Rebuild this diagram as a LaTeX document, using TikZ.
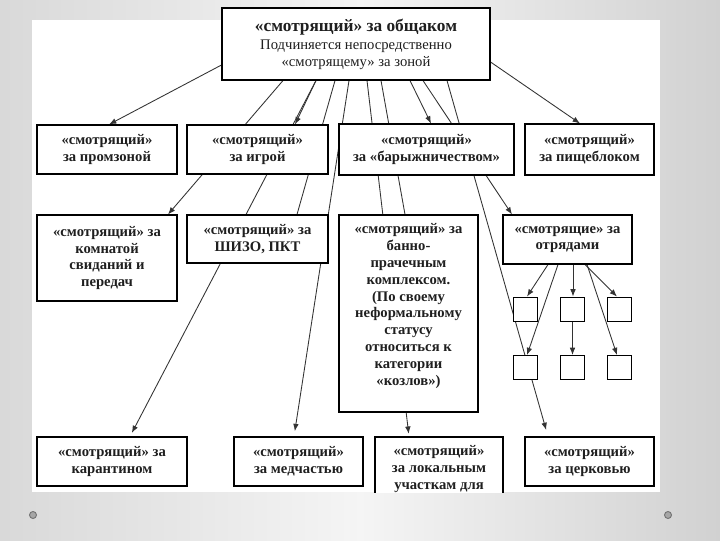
\documentclass[tikz,border=0pt]{standalone}
\usepackage{fontspec}
\setmainfont{Liberation Serif}
\usetikzlibrary{arrows.meta,calc,shadows}
\pgfdeclarelayer{back}
\pgfdeclarelayer{bg}
\pgfsetlayers{back,bg,main}
\begin{document}
\begin{tikzpicture}[x=0.75pt,y=-0.75pt,
  bx/.style={draw=black, line width=0.8pt, fill=white, inner sep=0pt, align=center,
    font=\fontsize{11}{12.6}\selectfont\bfseries, text=black!88,
    drop shadow={shadow xshift=1.1pt, shadow yshift=-1.1pt, fill=black!70, opacity=1}},
  txt/.style={inner sep=0pt, align=center, font=\fontsize{11}{12.6}\selectfont\bfseries, text=black!88},
  sq/.style={draw=black, line width=0.65pt, fill=white, minimum width=18pt, minimum height=18pt, inner sep=0pt,
    drop shadow={shadow xshift=0.7pt, shadow yshift=-0.7pt, fill=black!60, opacity=1}},
  con/.style={draw=black!80, line width=0.65pt},
  arr/.style={con, -{Latex[length=5.5pt,width=4.2pt]}},
]
\useasboundingbox (0,0) rectangle (720,540);
\begin{pgfonlayer}{back}
  \shade[left color=black!15, right color=black!18, middle color=black!4] (0,0) rectangle (720,540);
  \fill[white] (32,20) rectangle (660,492);
  \draw[black!55, fill=black!35, line width=0.7pt] (33,515) circle (3.5);
  \draw[black!55, fill=black!35, line width=0.7pt] (668,515) circle (3.5);
\end{pgfonlayer}

% boxes
\node[bx, minimum width=201pt, minimum height=54pt] (top) at (356,44)
  {{\fontsize{13}{15}\selectfont «смотрящий» за общаком}\\[1pt]
   {\mdseries Подчиняется непосредственно}\\{\mdseries «смотрящему» за зоной}};
\node[bx, minimum width=105pt, minimum height=36.75pt] (A) at (107,149.5) {«смотрящий»\\за промзоной};
\node[bx, minimum width=105.75pt, minimum height=36.75pt] (B) at (257.5,149.5) {«смотрящий»\\за игрой};
\node[bx, minimum width=131.25pt, minimum height=38.25pt] (C) at (426.5,149.5) {«смотрящий»\\за «барыжничеством»};
\node[bx, minimum width=96.75pt, minimum height=38.25pt] (D) at (589.5,149.5) {«смотрящий»\\за пищеблоком};
\node[bx, minimum width=105pt, minimum height=64.5pt] (E) at (107,258) {«смотрящий» за\\комнатой\\свиданий и\\передач};
\node[bx, minimum width=105.75pt, minimum height=36pt] (F) at (257.5,239) {«смотрящий» за\\ШИЗО, ПКТ};
\node[bx, minimum width=104.25pt, minimum height=147.75pt] (G) at (408.5,313.5) {};
\node[txt] (Gt) at (408.5,306) {«смотрящий» за\\банно-\\прачечным\\комплексом.\\(По своему\\неформальному\\статусу\\относиться к\\категории\\«козлов»)};
\node[bx, minimum width=96.75pt, minimum height=36.75pt] (H) at (567.5,239.5) {«смотрящие» за\\отрядами};
\node[sq] (TL) at (525,309) {};
\node[sq] (TM) at (572.5,309) {};
\node[sq] (TR) at (619.5,309) {};
\node[sq] (BL) at (525,367.5) {};
\node[sq] (BM) at (572.5,367.5) {};
\node[sq] (BR) at (619.5,367.5) {};
\node[bx, minimum width=112.5pt, minimum height=36.75pt] (I) at (112,461.5) {«смотрящий» за\\карантином};
\node[bx, minimum width=96.75pt, minimum height=36.75pt] (J) at (298.5,461.5) {«смотрящий»\\за медчастью};
\begin{scope}
  \clip (368,428) rectangle (512,492.5);
  \node[bx, minimum width=96pt, minimum height=61.5pt] (K) at (439,478) {};
  \node[txt] (Kt) at (439,469) {«смотрящий»\\за локальным\\участкам для};
\end{scope}
\node[bx, minimum width=96.75pt, minimum height=36.75pt] (L) at (589.5,461.5) {«смотрящий»\\за церковью};

% connectors
\begin{pgfonlayer}{bg}
\draw[arr] ($(top.west)+(0,21)$) -- ($(A.north)+(2,0)$);
\draw[arr] ($(top.south)+(-73,0)$) -- ($(E.north)+(61,0)$);
\draw[arr] ($(top.south)+(-40,0)$) -- ($(B.north)+(37.5,0)$);
\draw[arr,shorten >=3pt] ($(top.south)+(-40,0)$) -- ($(I.north)+(18,0)$);
\draw[con] ($(top.south)+(-21,0)$) -- ($(F.north)+(39.5,0)$);
\draw[arr,shorten >=4pt] ($(top.south)+(-7,0)$) -- ($(J.north)+(-4.5,0)$);
\draw[arr,shorten >=2pt] ($(top.south)+(11,0)$) -- ($(K.north)+(-30,0)$);
\draw[con] ($(top.south)+(25,0)$) -- ($(G.north)+(-3.5,0)$);
\draw[arr] ($(top.south)+(54,0)$) -- ($(C.north)+(4.5,0)$);
\draw[arr] ($(top.south)+(67,0)$) -- ($(H.north)+(-55.5,0)$);
\draw[arr,shorten >=5pt] ($(top.south)+(91,0)$) -- ($(L.north)+(-41.5,0)$);
\draw[arr] ($(top.east)+(0,18)$) -- ($(D.north)+(-9.5,0)$);
\draw[arr] ($(H.south)+(-19.5,0)$) -- ($(TL.north)+(2,0)$);
\draw[arr] ($(H.south)+(-9.5,0)$) -- ($(BL.north)+(2,0)$);
\draw[arr] ($(H.south)+(5.5,0)$) -- ($(TM.north)+(0.5,0)$);
\draw[arr] (TM) -- (BM);
\draw[arr] ($(H.south)+(17.5,0)$) -- ($(TR.north)+(-2.5,0)$);
\draw[arr] ($(H.south)+(19.5,0)$) -- ($(BR.north)+(-2.5,0)$);
\end{pgfonlayer}
\end{tikzpicture}
\end{document}
